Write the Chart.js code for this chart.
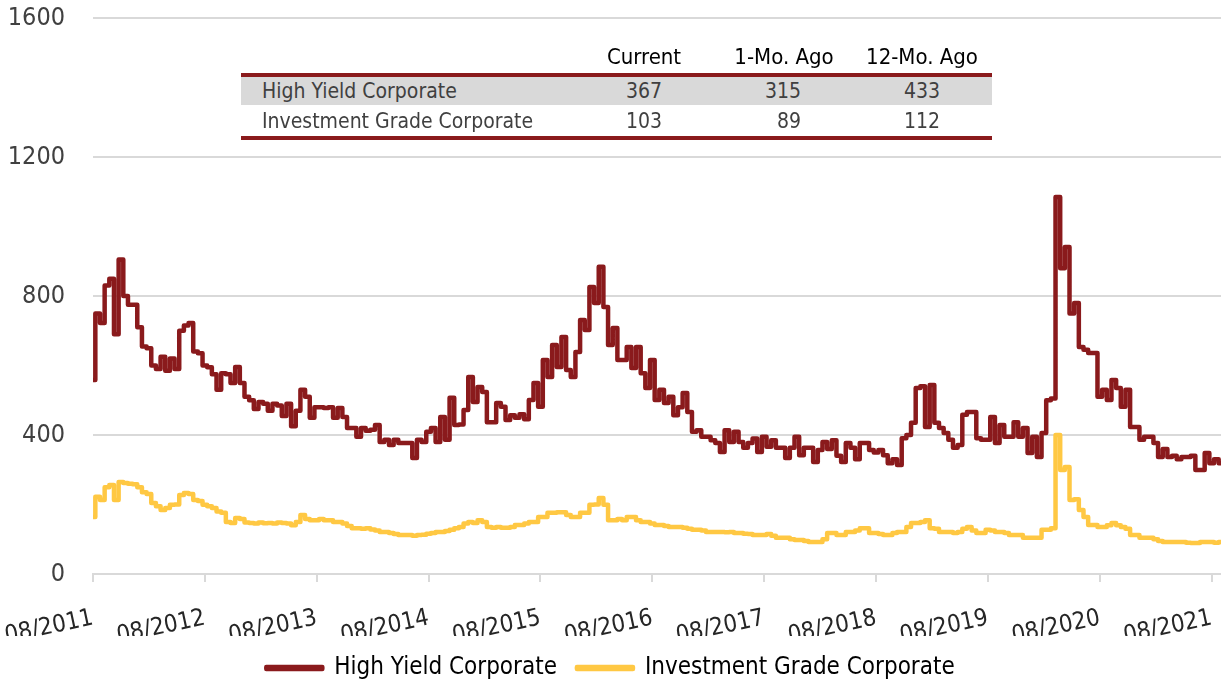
<!DOCTYPE html>
<html>
<head>
<meta charset="utf-8">
<script src="https://cdn.jsdelivr.net/npm/chart.js@4.4.1/dist/chart.umd.min.js"></script>
<style>
    html, body { margin: 0; padding: 0; background: #fff; }
    #wrap { position: relative; width: 1221px; height: 683px; overflow: hidden; font-family: 'DejaVu Sans Condensed', Lato, sans-serif; }
    #wrap canvas { position: absolute; left: 0; top: 0; }
    .cell { position: absolute; white-space: nowrap; line-height: 1; }
    .bar { position: absolute; left: 241px; width: 751px; }
</style>
</head>
<body>
<div id="wrap">
    <canvas id="chartSpreads" width="1221" height="683"></canvas>
    <div id="spreadTable"></div>
</div>
<script>
// eje x: una marca por agosto de cada ano
const tickLabels = ['08/2011', '08/2012', '08/2013', '08/2014', '08/2015', '08/2016',
    '08/2017', '08/2018', '08/2019', '08/2020', '08/2021'];

// spreads (pb), un valor cada medio mes desde 08/2011
const hyValues = [
    558, 750, 722, 830, 850, 690, 905, 800, 775, 775,
    710, 655, 650, 600, 590, 625, 585, 620, 590, 700,
    715, 722, 640, 635, 600, 595, 575, 530, 578, 575,
    550, 596, 550, 510, 500, 475, 495, 490, 470, 490,
    485, 455, 490, 425, 470, 530, 510, 450, 480, 480,
    478, 480, 450, 478, 452, 420, 420, 395, 420, 412,
    415, 429, 380, 386, 371, 386, 377, 377, 377, 334,
    386, 380, 409, 420, 380, 452, 386, 507, 429, 430,
    472, 567, 495, 538, 524, 437, 437, 492, 481, 443,
    457, 450, 460, 445, 501, 550, 481, 616, 567, 659,
    596, 682, 587, 567, 639, 731, 702, 826, 780, 884,
    768, 659, 708, 616, 616, 653, 593, 653, 578, 535,
    616, 501, 530, 492, 510, 457, 480, 521, 466, 409,
    414, 395, 395, 385, 377, 351, 414, 380, 409, 380,
    363, 377, 390, 351, 395, 366, 385, 363, 363, 334,
    363, 395, 342, 363, 363, 322, 357, 380, 360, 385,
    340, 322, 377, 363, 330, 377, 377, 357, 350, 357,
    342, 319, 330, 314, 391, 400, 435, 535, 540, 423,
    544, 435, 420, 406, 386, 363, 371, 458, 466, 466,
    391, 386, 386, 452, 377, 429, 395, 395, 437, 395,
    420, 348, 395, 337, 406, 500, 505, 1085, 880, 941,
    750, 780, 653, 645, 636, 636, 510, 530, 501, 558,
    535, 481, 530, 423, 423, 386, 395, 395, 377, 337,
    360, 337, 340, 330, 337, 337, 340, 299, 299, 348,
    319, 330, 319
];

const igValues = [
    164, 222, 213, 250, 256, 213, 265, 262, 260, 258,
    250, 235, 230, 204, 195, 184, 190, 199, 200, 227,
    233, 230, 213, 210, 199, 195, 190, 180, 176, 150,
    147, 161, 158, 148, 147, 145, 148, 146, 147, 145,
    148, 147, 145, 140, 150, 170, 158, 155, 155, 158,
    155, 155, 150, 150, 145, 138, 132, 132, 130, 132,
    128, 125, 121, 121, 118, 115, 112, 112, 112, 110,
    112, 113, 116, 118, 121, 121, 124, 127, 132, 135,
    145, 150, 147, 155, 150, 135, 133, 135, 133, 133,
    135, 141, 141, 145, 150, 150, 164, 164, 176, 176,
    178, 178, 170, 164, 164, 176, 176, 199, 200, 219,
    199, 155, 155, 158, 155, 164, 164, 155, 150, 150,
    145, 141, 141, 138, 135, 135, 135, 133, 130, 127,
    127, 125, 121, 121, 121, 121, 120, 121, 118, 118,
    116, 115, 112, 112, 112, 115, 110, 104, 104, 104,
    100, 98, 98, 95, 92, 92, 92, 100, 118, 118,
    112, 112, 121, 121, 125, 132, 132, 118, 118, 115,
    112, 112, 118, 121, 121, 135, 147, 147, 150, 155,
    132, 130, 121, 121, 121, 118, 121, 130, 135, 125,
    118, 118, 127, 125, 121, 121, 118, 112, 112, 112,
    104, 104, 104, 104, 127, 127, 132, 400, 299, 308,
    213, 215, 184, 164, 141, 141, 135, 135, 140, 147,
    140, 135, 130, 112, 112, 104, 104, 104, 100, 95,
    92, 92, 92, 92, 92, 90, 89, 89, 92, 92,
    92, 90, 92
];

// tabla resumen
const tableColumns = ['Current', '1-Mo. Ago', '12-Mo. Ago'];
const tableRows = ['High Yield Corporate', 'Investment Grade Corporate'];
const tableValues = [[367, 315, 433], [103, 89, 112]];

const seriesNames = ['High Yield Corporate', 'Investment Grade Corporate'];
const FONT = "'DejaVu Sans Condensed', Lato, sans-serif";
const RED = '#8A1A1C';
const YELLOW = '#FFC843';
const GRID = '#d9d9d9';

function toPoints(values) {
    // medio mes por punto
    return values.map(function (v, i) { return { x: i / 2, y: v }; });
}

function buildTable() {
    const box = document.getElementById('spreadTable');
    let html = '';
    const headCenters = [644, 784, 922];
    const valueRights = [662, 801, 940];
    tableColumns.forEach(function (c, k) {
        html += '<div class="cell" style="left:' + (headCenters[k] - 80) + 'px;width:160px;text-align:center;top:46px;font-size:22px;color:#000">' + c + '</div>';
    });
    html += '<div class="bar" style="top:73px;height:4px;background:' + RED + '"></div>';
    html += '<div class="bar" style="top:77px;height:28px;background:#d9d9d9"></div>';
    html += '<div class="bar" style="top:136px;height:4px;background:' + RED + '"></div>';
    tableRows.forEach(function (r, j) {
        const top = 81 + j * 30;
        html += '<div class="cell" style="left:262px;top:' + top + 'px;font-size:21px;color:#404040">' + r + '</div>';
        tableValues[j].forEach(function (v, k) {
            html += '<div class="cell" style="left:' + (valueRights[k] - 100) + 'px;width:100px;text-align:right;top:' + top + 'px;font-size:21px;color:#404040">' + v + '</div>';
        });
    });
    box.innerHTML = html;
}

buildTable();

new Chart(document.getElementById('chartSpreads'), {
    type: 'line',
    data: {
        datasets: [
            {
                label: seriesNames[0],
                data: toPoints(hyValues),
                borderColor: RED,
                backgroundColor: RED,
                borderWidth: 4.5,
                pointRadius: 0,
                stepped: 'middle',
                borderJoinStyle: 'round',
                borderCapStyle: 'round',
            },
            {
                label: seriesNames[1],
                data: toPoints(igValues),
                borderColor: YELLOW,
                backgroundColor: YELLOW,
                borderWidth: 4.5,
                pointRadius: 0,
                stepped: 'middle',
                borderJoinStyle: 'round',
                borderCapStyle: 'round',
            },
        ],
    },
    options: {
        responsive: false,
        animation: false,
        devicePixelRatio: 1,
        layout: { padding: { top: 18, right: 0, left: 0, bottom: -7 } },
        plugins: {
            tooltip: { enabled: false },
            legend: {
                position: 'bottom',
                labels: { color: '#000', font: { family: FONT, size: 24 }, boxWidth: 56, boxHeight: 2, padding: 20 },
            },
        },
        scales: {
            x: {
                type: 'linear',
                min: 0,
                max: 121,
                afterBuildTicks: function (scale) {
                    scale.ticks = tickLabels.map(function (_, k) { return { value: k * 12 }; });
                },
                afterFit: function (scale) {
                    scale.height = 62;
                    scale.paddingLeft = 0;
                    scale.paddingRight = 0;
                },
                ticks: {
                    autoSkip: false,
                    minRotation: 12,
                    maxRotation: 12,
                    padding: 22,
                    color: '#262626',
                    font: { family: FONT, size: 24 },
                    callback: function (value) { return tickLabels[Math.round(value / 12)]; },
                },
                grid: { drawOnChartArea: false, drawTicks: true, tickLength: 8, color: GRID, lineWidth: 2 },
                border: { display: true, color: GRID, width: 2 },
            },
            y: {
                min: 0,
                max: 1600,
                afterFit: function (scale) {
                    scale.width = 93;
                    scale.paddingTop = 0;
                    scale.paddingBottom = 0;
                },
                ticks: {
                    stepSize: 400,
                    padding: 28,
                    color: '#404040',
                    font: { family: FONT, size: 25 },
                    callback: function (value) { return String(value); },
                },
                grid: { color: GRID, lineWidth: 2, drawTicks: false },
                border: { display: false },
            },
        },
    },
});
</script>
</body>
</html>
